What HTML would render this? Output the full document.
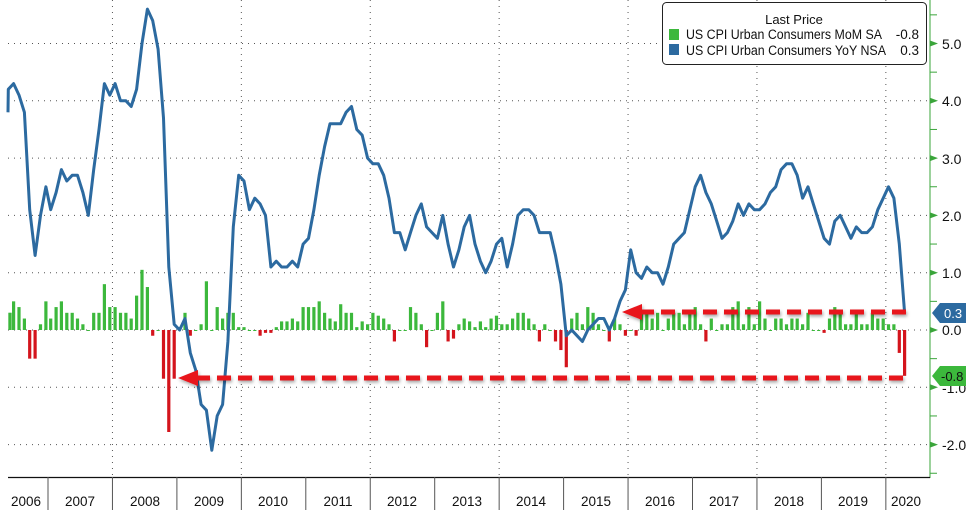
<!DOCTYPE html>
<html><head><meta charset="utf-8"><style>
html,body{margin:0;padding:0;background:#fff;}
svg{display:block;font-family:"Liberation Sans",sans-serif;}
</style></head><body>
<svg id="c" width="976" height="514" viewBox="0 0 976 514" xmlns="http://www.w3.org/2000/svg">
<defs><filter id="sh" x="-5%" y="-50%" width="110%" height="200%"><feDropShadow dx="1" dy="2" stdDeviation="1.5" flood-color="#000" flood-opacity="0.35"/></filter></defs>
<g id="grid" stroke="#555" stroke-width="1" stroke-dasharray="1,5"></g>
<g id="bars"></g>
<polyline id="line" fill="none" stroke="#2c6aa0" stroke-width="3" stroke-linejoin="round"/>
<g filter="url(#sh)">
<line x1="640" y1="312" x2="906" y2="312" stroke="#e8141c" stroke-width="5" stroke-dasharray="14,7"/>
<polygon points="622,312 642,304 642,320" fill="#e8141c"/>
<line x1="196" y1="378" x2="906" y2="378" stroke="#e8141c" stroke-width="5" stroke-dasharray="14,7"/>
<polygon points="178,378 198,370 198,386" fill="#e8141c"/>
</g>
<line x1="930" y1="0" x2="930" y2="478" stroke="#3aa53a" stroke-width="1"/>
<line x1="8" y1="477.5" x2="930" y2="477.5" stroke="#111" stroke-width="1.2"/>
<g id="ticks" fill="#3aa53a"></g>
<g font-size="14" fill="#111">
<text x="942" y="49">5.0</text><text x="942" y="106">4.0</text><text x="942" y="164">3.0</text><text x="942" y="221">2.0</text><text x="942" y="278">1.0</text><text x="942" y="335">0.0</text><text x="942" y="393">-1.0</text><text x="942" y="450">-2.0</text>
</g>
<g font-size="13.5" fill="#111" text-anchor="middle">
<text x="26" y="506">2006</text><text x="80" y="506">2007</text><text x="145" y="506">2008</text><text x="209" y="506">2009</text><text x="273" y="506">2010</text><text x="338" y="506">2011</text><text x="402" y="506">2012</text><text x="467" y="506">2013</text><text x="531" y="506">2014</text><text x="596" y="506">2015</text><text x="660" y="506">2016</text><text x="724" y="506">2017</text><text x="789" y="506">2018</text><text x="853" y="506">2019</text><text x="906" y="506">2020</text>
</g>
<g id="yt" stroke="#555" stroke-width="1"></g>
<polygon points="932,313 940,303 966,303 966,323 940,323" fill="#2c6aa0"/>
<text x="944" y="318" font-size="13" fill="#fff">0.3</text>
<polygon points="932,376 940,366 966,366 966,386 940,386" fill="#3cb83c"/>
<text x="941" y="381" font-size="13" fill="#111">-0.8</text>
<rect x="662.5" y="2.5" width="264" height="62" rx="4" fill="#fff" stroke="#222" stroke-width="1"/>
<text x="794" y="24" font-size="13" text-anchor="middle" fill="#111">Last Price</text>
<rect x="669" y="29" width="10" height="11" fill="#3cb83c"/>
<rect x="669" y="44" width="10" height="11" fill="#2c6aa0"/>
<text x="686" y="39" font-size="13.5" fill="#111" textLength="196" lengthAdjust="spacingAndGlyphs">US CPI Urban Consumers MoM SA</text>
<text x="919" y="39" font-size="13.5" fill="#111" text-anchor="end">-0.8</text>
<text x="686" y="55" font-size="13.5" fill="#111" textLength="200" lengthAdjust="spacingAndGlyphs">US CPI Urban Consumers YoY NSA</text>
<text x="919" y="55" font-size="13.5" fill="#111" text-anchor="end">0.3</text>
</svg>
<script>
const NS="http://www.w3.org/2000/svg";
const Y=v=>330-57.3*v, X=t=>48+64.45*(t-2007);
function el(p,n,a){const e=document.createElementNS(NS,n);for(const k in a)e.setAttribute(k,a[k]);document.getElementById(p).appendChild(e);return e;}
[5,4,3,2,1,0,-1,-2].forEach(v=>el('grid','line',{x1:8,x2:930,y1:Y(v),y2:Y(v)}));
[2008,2010,2012,2014,2016,2018,2020].forEach(y=>el('grid','line',{x1:X(y),x2:X(y),y1:0,y2:477}));
for(let v=-2.5;v<=5.5;v+=0.5){const y=Y(v);if(Number.isInteger(v)){el('ticks','polygon',{points:`930,${y-3} 938,${y} 930,${y+3}`});}else el('yt','line',{x1:930,x2:937,y1:y,y2:y,stroke:"#3aa53a"});}
for(let y=2007;y<=2020;y++)el('yt','line',{x1:X(y),x2:X(y),y1:477,y2:510});
const yoy={2006:[3.8,4.2,4.3,4.1,3.8,2.1,1.3,2.0,2.5],
2007:[2.1,2.4,2.8,2.6,2.7,2.7,2.4,2.0,2.8,3.5,4.3,4.1],
2008:[4.3,4.0,4.0,3.9,4.2,5.0,5.6,5.4,4.9,3.7,1.1,0.1],
2009:[0.0,0.2,-0.4,-0.7,-1.3,-1.4,-2.1,-1.5,-1.3,-0.2,1.8,2.7],
2010:[2.6,2.1,2.3,2.2,2.0,1.1,1.2,1.1,1.1,1.2,1.1,1.5],
2011:[1.6,2.1,2.7,3.2,3.6,3.6,3.6,3.8,3.9,3.5,3.4,3.0],
2012:[2.9,2.9,2.7,2.3,1.7,1.7,1.4,1.7,2.0,2.2,1.8,1.7],
2013:[1.6,2.0,1.5,1.1,1.4,1.8,2.0,1.5,1.2,1.0,1.2,1.5],
2014:[1.6,1.1,1.5,2.0,2.1,2.1,2.0,1.7,1.7,1.7,1.3,0.8],
2015:[-0.1,0.0,-0.1,-0.2,0.0,0.1,0.2,0.2,0.0,0.2,0.5,0.7],
2016:[1.4,1.0,0.9,1.1,1.0,1.0,0.8,1.1,1.5,1.6,1.7,2.1],
2017:[2.5,2.7,2.4,2.2,1.9,1.6,1.7,1.9,2.2,2.0,2.2,2.1],
2018:[2.1,2.2,2.4,2.5,2.8,2.9,2.9,2.7,2.3,2.5,2.2,1.9],
2019:[1.6,1.5,1.9,2.0,1.8,1.6,1.8,1.7,1.7,1.8,2.1,2.3],
2020:[2.5,2.3,1.5,0.3]};
const mom={2006:[0.3,0.3,0.5,0.4,0.2,-0.5,-0.5,0.1,0.5],
2007:[0.2,0.4,0.5,0.3,0.3,0.2,0.1,0.0,0.3,0.3,0.8,0.4],
2008:[0.4,0.3,0.3,0.2,0.6,1.05,0.75,-0.1,0.0,-0.85,-1.78,-0.85],
2009:[0.05,0.3,-0.1,0.0,0.1,0.85,0.0,0.4,0.2,0.3,0.3,0.05],
2010:[0.05,0.0,0.0,-0.1,-0.05,-0.05,0.05,0.15,0.15,0.2,0.15,0.4],
2011:[0.4,0.4,0.5,0.3,0.2,0.15,0.45,0.3,0.3,0.05,0.15,0.1],
2012:[0.3,0.25,0.2,0.1,-0.2,0.0,0.0,0.4,0.3,0.1,-0.3,0.0],
2013:[0.3,0.5,-0.2,-0.15,0.1,0.2,0.15,0.05,0.15,0.05,0.2,0.25],
2014:[0.1,0.1,0.2,0.3,0.3,0.2,0.1,-0.2,0.1,0.0,-0.2,-0.35],
2015:[-0.65,0.2,0.3,0.1,0.4,0.3,0.1,0.0,-0.2,0.2,0.1,-0.1],
2016:[0.0,-0.1,0.3,0.3,0.2,0.3,0.0,0.2,0.3,0.3,0.1,0.3],
2017:[0.4,0.1,-0.2,0.2,0.0,0.1,0.1,0.4,0.5,0.1,0.4,0.1],
2018:[0.5,0.2,0.0,0.2,0.2,0.1,0.2,0.2,0.1,0.3,0.0,0.0],
2019:[-0.05,0.2,0.4,0.3,0.1,0.1,0.3,0.1,0.1,0.3,0.2,0.2],
2020:[0.1,0.1,-0.4,-0.8]};
function tt(y,i){return y==2006? 2006+(i+3.6)/12 : y+(i+0.5)/12;}
let pts=[];
for(const y in yoy)yoy[y].forEach((v,i)=>{let x=X(tt(+y,i));if(x<8)x=8;pts.push(x.toFixed(1)+','+Y(v).toFixed(1));});
document.getElementById('line').setAttribute('points',pts.join(' '));
for(const y in mom)mom[y].forEach((v,i)=>{let x=X(tt(+y,i));if(x<10)x=10;const y0=Y(0),y1=Y(v);
el('bars','rect',{x:(x-1.6).toFixed(1),y:Math.min(y0,y1),width:3.2,height:Math.max(1,Math.abs(y1-y0)),fill:v>=0?'#3cb83c':'#d4141c'});});
</script>
</body></html>
